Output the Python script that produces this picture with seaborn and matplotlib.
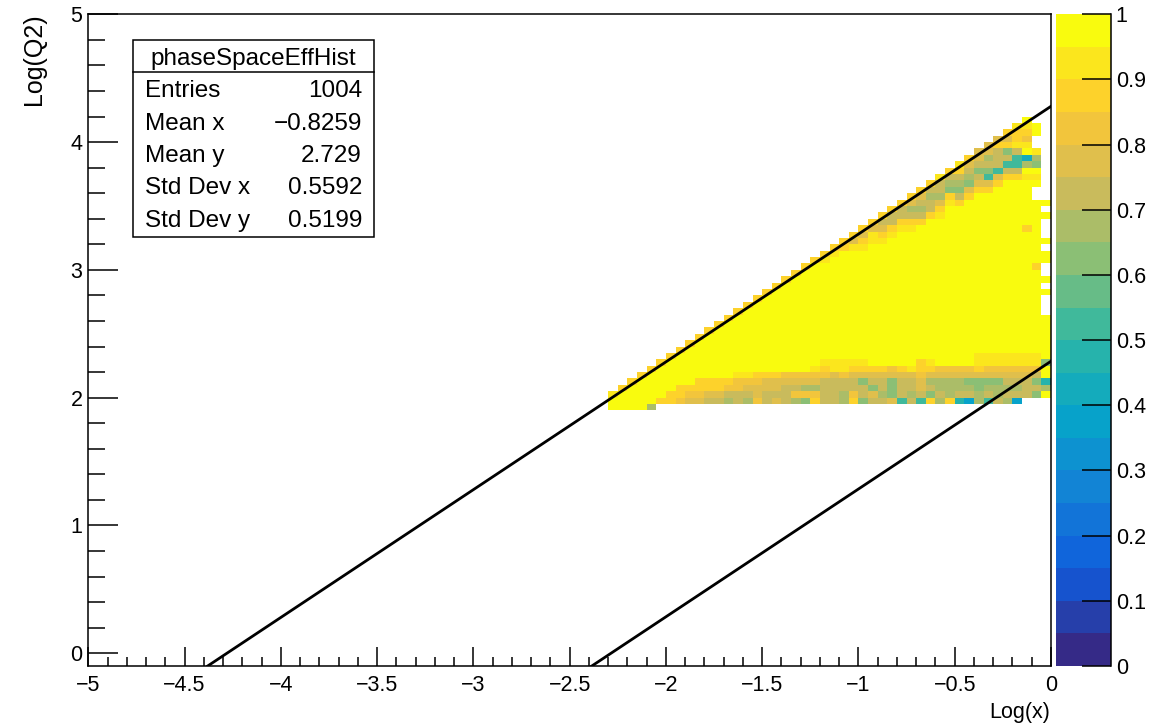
import numpy as np
import matplotlib
matplotlib.use("Agg")
import matplotlib.pyplot as plt
from matplotlib.colors import LinearSegmentedColormap, ListedColormap
from matplotlib.ticker import MultipleLocator, FixedLocator, FixedFormatter
from matplotlib.patches import Rectangle
import seaborn as sns

# ------------------------------------------------------------------ data
x_range = (-5.0, 0.0)          # Log(x) axis range
y_range = (-0.1, 5.0)          # Log(Q2) axis range
bin_width = 0.05               # histogram bin width in both directions
map_x0 = -2.30                 # left edge of first column of the efficiency map
map_y0 = 1.90                  # bottom edge of first row of the efficiency map

# efficiency level of each map code (bin content)
level_value = {'Y': 0.975, 'y': 0.925, 'o': 0.875, 'O': 0.825, 'k': 0.775,
               'K': 0.725, 'g': 0.675, 'G': 0.625, 't': 0.575, 'T': 0.525,
               'c': 0.475, 'C': 0.425, 'b': 0.375}

# efficiency map, one string per Log(Q2) bin (top row first), one char per Log(x) bin
eff_rows = [
    "." * 43 + "Y..",
    "." * 42 + "yyY.",
    "." * 41 + "oooY.",
    "." * 40 + "kkoO..",
    "." * 39 + "kooyy..",
    "." * 38 + "kkKGKYy.",
    "." * 37 + "okgKKTCg.",
    "." * 36 + "ykKKKTTgG.",
    "." * 35 + "ooKGGTKKYY.",
    "." * 34 + "yKKgKTkooyy.",
    "." * 33 + "oKggGkkoYYYY.",
    "." * 32 + "oKKGGkooYYYY..",
    "." * 31 + "okggoKoYYYYYY..",
    "." * 30 + "okKKkyo" + "Y" * 9,
    "." * 29 + "oKggKo" + "Y" * 10 + ".",
    "." * 28 + "oKKKKoy" + "Y" * 11,
    "." * 27 + "oKKooo" + "Y" * 12 + ".",
    "." * 26 + "okkoyy" + "Y" * 11 + "oY.",
    "." * 25 + "okyoy" + "Y" * 15 + ".",
    "." * 24 + "okoyy" + "Y" * 17,
    "." * 23 + "ooyy" + "Y" * 18 + ".",
    "." * 22 + "oy" + "Y" * 22,
    "." * 21 + "oy" + "Y" * 23,
    "." * 20 + "o" + "Y" * 23 + "o.",
    "." * 19 + "o" + "Y" * 25 + ".",
    "." * 18 + "o" + "Y" * 27,
    "." * 17 + "o" + "Y" * 27 + ".",
    "." * 16 + "o" + "Y" * 29,
    "." * 15 + "o" + "Y" * 29 + ".",
    "." * 14 + "o" + "Y" * 30 + ".",
    "." * 13 + "o" + "Y" * 31 + ".",
    "." * 12 + "o" + "Y" * 33,
    "." * 11 + "o" + "Y" * 34,
    "." * 10 + "o" + "Y" * 35,
    "." * 9 + "o" + "Y" * 36,
    "." * 8 + "o" + "Y" * 37,
    "." * 7 + "o" + "Y" * 38,
    "." * 6 + "o" + "Y" * 31 + "yyyyyyy" + "Y",
    "." * 5 + "oYYYY" + "YYYYYYYYYY" + "YYyyyyyYYY" + "YYoyYYYYyy" + "yyyyyG",
    "." * 4 + "oYYYYY" + "YYYYYYYYYY" + "YyoyyooooO" + "oyooOOOOoO" + "OOOOOY",
    "." * 3 + "oYYYYYY" + "YYYyyoooOO" + "OOOkOkkkkk" + "kkOkkkkkkk" + "kkkkKY",
    "." * 2 + "oYYYYYYo" + "oooOOOkkkk" + "kkKKKKGKKG" + "KKkggggGGG" + "GKKKGc",
    "." + "oYYYYYooo" + "ooOOkkkkKK" + "ggKKKKKGKG" + "KKkKggggGg" + "gggKKg",
    "yYYYYYooOO" + "kkKKKkKKKO" + "OOKKgOKkgG" + "KgKGKgKKgK" + "gKKKGY",
    "YYYYYooOkk" + "KKgKgOKkKg" + "GoKKgoGKKk" + "TKTogocbgT" + "Kgb...",
    "YYYYg" + "." * 41,
]
map_ncols = 46

# kinematic limit lines (end points)
upper_line_x = [-4.38, 0.0]
upper_line_y = [-0.10, 4.28]
lower_line_x = [-2.385, 0.0]
lower_line_y = [-0.10, 2.285]

# ROOT kBird palette
bird_stops = [0.0000, 0.1250, 0.2500, 0.3750, 0.5000, 0.6250, 0.7500, 0.8750, 1.0000]
bird_red = [0.2082, 0.0592, 0.0780, 0.0232, 0.1802, 0.5301, 0.8186, 0.9956, 0.9764]
bird_green = [0.1664, 0.3599, 0.5041, 0.6419, 0.7178, 0.7492, 0.7328, 0.7862, 0.9832]
bird_blue = [0.5293, 0.8684, 0.8385, 0.7914, 0.6425, 0.4662, 0.3499, 0.1968, 0.0539]
n_contours = 20

xtick_values = [-5, -4.5, -4, -3.5, -3, -2.5, -2, -1.5, -1, -0.5, 0]
xtick_labels = ["\u22125", "\u22124.5", "\u22124", "\u22123.5", "\u22123", "\u22122.5",
                "\u22122", "\u22121.5", "\u22121", "\u22120.5", "0"]
ytick_values = [0, 1, 2, 3, 4, 5]
ytick_labels = ["0", "1", "2", "3", "4", "5"]
ztick_values = [0, 0.1, 0.2, 0.3, 0.4, 0.5, 0.6, 0.7, 0.8, 0.9, 1.0]
ztick_labels = ["0", "0.1", "0.2", "0.3", "0.4", "0.5", "0.6", "0.7", "0.8", "0.9", "1"]

stats_title = "phaseSpaceEffHist"
stats_labels = ["Entries", "Mean x", "Mean y", "Std Dev x", "Std Dev y"]
stats_values = ["1004", "\u22120.8259", "2.729", "0.5592", "0.5199"]

x_title = "Log(x)"
y_title = "Log(Q2)"

# ------------------------------------------------------------------ build grid
nx = int(round((x_range[1] - x_range[0]) / bin_width))
ny = int(round((y_range[1] - y_range[0]) / bin_width))
grid = np.full((ny, nx), np.nan)
r0 = int(round((map_y0 - y_range[0]) / bin_width))
c0 = int(round((map_x0 - x_range[0]) / bin_width))
nrows = len(eff_rows)
for k, s in enumerate(eff_rows):
    i = nrows - 1 - k
    s = s.ljust(map_ncols, ".")[:map_ncols]
    for j, ch in enumerate(s):
        if ch in level_value:
            grid[r0 + i, c0 + j] = level_value[ch]

bird = LinearSegmentedColormap.from_list(
    "kBird", [(s, (r, g, b)) for s, r, g, b in zip(bird_stops, bird_red, bird_green, bird_blue)])
band_cmap = ListedColormap([bird(k / (n_contours - 1)) for k in range(n_contours)])

# ------------------------------------------------------------------ figure
plt.rcParams['font.family'] = ['Liberation Sans', 'DejaVu Sans']
W, H = 1155, 727
fig = plt.figure(figsize=(W / 100, H / 100), dpi=100)
fig.patch.set_facecolor("white")

ax_l, ax_r, ax_t, ax_b = 88.3, 1051.0, 14.3, 666.0
rect = [ax_l / W, 1 - ax_b / H, (ax_r - ax_l) / W, (ax_b - ax_t) / H]
crect = [1055.7 / W, 1 - ax_b / H, (1111.0 - 1055.7) / W, (ax_b - ax_t) / H]

ax = fig.add_axes(rect)
cax = fig.add_axes(crect)

sns.heatmap(grid, ax=ax, cmap=band_cmap, vmin=0, vmax=1, mask=np.isnan(grid),
            cbar_ax=cax, xticklabels=False, yticklabels=False, linewidths=0)
ax.set_xlim(0, nx)
ax.set_ylim(0, ny)
ax.axis("off")

# overlay axes in physical coordinates
ax2 = fig.add_axes(rect)
ax2.set_facecolor("none")
sns.lineplot(x=upper_line_x, y=upper_line_y, ax=ax2, color="black", linewidth=2.0,
             sort=False, estimator=None)
sns.lineplot(x=lower_line_x, y=lower_line_y, ax=ax2, color="black", linewidth=2.0,
             sort=False, estimator=None)
ax2.set_xlim(*x_range)
ax2.set_ylim(*y_range)
ax2.set_xlabel("")
ax2.set_ylabel("")
for sp in ax2.spines.values():
    sp.set_visible(True)
    sp.set_linewidth(1.1)
    sp.set_color("black")
ax2.xaxis.set_major_locator(FixedLocator(xtick_values))
ax2.xaxis.set_major_formatter(FixedFormatter(xtick_labels))
ax2.xaxis.set_minor_locator(MultipleLocator(0.1))
ax2.yaxis.set_major_locator(FixedLocator(ytick_values))
ax2.yaxis.set_major_formatter(FixedFormatter(ytick_labels))
ax2.yaxis.set_minor_locator(MultipleLocator(0.2))
ax2.tick_params(which="both", direction="in", top=False, right=False, width=1.1,
                colors="black", labelsize=15.5)
ax2.tick_params(axis="x", which="major", length=13.7, pad=6.5)
ax2.tick_params(axis="x", which="minor", length=6.8)
ax2.tick_params(axis="y", which="major", length=21.6, pad=4.2)
ax2.tick_params(axis="y", which="minor", length=12.0)

# colour bar (palette axis)
cbar = ax.collections[0].colorbar
cbar.outline.set_visible(False)
cbar.set_ticks(ztick_values)
cbar.set_ticklabels(ztick_labels)
cbar.minorticks_off()
cax.yaxis.set_ticks_position("right")
cax.tick_params(direction="in", length=21, width=1.1, labelsize=15.5, pad=3.5, colors="black")
cax.plot([1, 1], [0, 1], transform=cax.transAxes, color="black", lw=1.1, clip_on=False)

# axis titles
fig.text(1050 / W, 1 - 718 / H, x_title, ha="right", va="baseline", fontsize=15.5)
fig.text(33.5 / W, 1 - 13 / H, y_title, ha="center", va="top", rotation=90, fontsize=18)

# statistics box
bx0, by0, bx1, by1 = 133.0, 40.0, 374.0, 237.0
sax = fig.add_axes([bx0 / W, 1 - by1 / H, (bx1 - bx0) / W, (by1 - by0) / H])
sax.set_xlim(0, bx1 - bx0)
sax.set_ylim(by1 - by0, 0)
sax.axis("off")
sax.add_patch(Rectangle((0, 0), bx1 - bx0, by1 - by0, facecolor="white",
                        edgecolor="black", lw=1.1, clip_on=False))
sax.plot([0, bx1 - bx0], [32, 32], color="black", lw=1.1, clip_on=False)
sax.text((bx1 - bx0) / 2, 25, stats_title, ha="center", va="baseline", fontsize=17.5)
for n, (lab, val) in enumerate(zip(stats_labels, stats_values)):
    yb = 57.3 + 32.4 * n
    sax.text(12, yb, lab, ha="left", va="baseline", fontsize=17.5)
    sax.text(229, yb, val, ha="right", va="baseline", fontsize=17.5)

fig.savefig("out.png", dpi=100, facecolor="white")
